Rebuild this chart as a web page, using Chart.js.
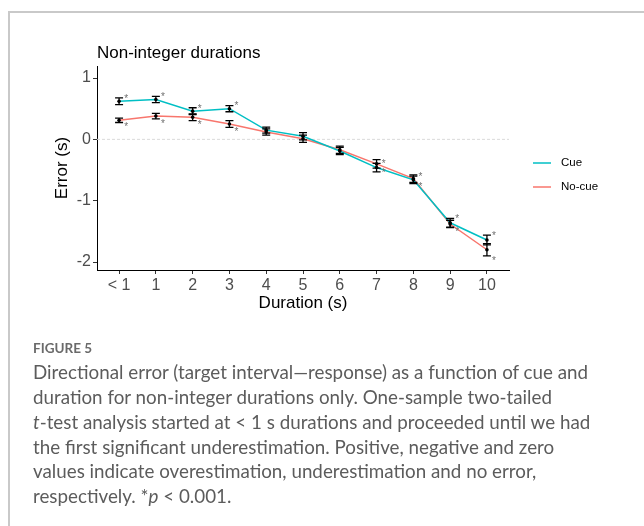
<!DOCTYPE html>
<html>
<head>
<meta charset="utf-8">
<script src="https://cdn.jsdelivr.net/npm/chart.js@4.4.1/dist/chart.umd.min.js"></script>
<style>
body { margin: 0; background: #fff; width: 644px; height: 526px; overflow: hidden; position: relative; }
#card { position: absolute; left: 8px; top: 11px; width: 700px; height: 600px; border: 2px solid #c9c9c9; box-sizing: border-box; }
#caption { position: absolute; left: 33px; top: 340px; color: #5c5c5c; font-family: Lato, "Open Sans", sans-serif; }
#caption .fig { font-size: 13.5px; line-height: 16px; font-weight: bold; color: #6a6a6a; margin-bottom: 4.2px; }
#caption .txt { font-size: 18.8px; line-height: 24.8px; white-space: nowrap; }
</style>
</head>
<body>
<div id="card"></div>
<canvas id="chart" width="644" height="330"></canvas>
<div id="caption">
  <div class="fig">FIGURE 5</div>
  <div class="txt">Directional error (target interval—response) as a function of cue and<br>duration for non-integer durations only. One-sample two-tailed<br><i>t</i>-test analysis started at &lt; 1 s durations and proceeded until we had<br>the first significant underestimation. Positive, negative and zero<br>values indicate overestimation, underestimation and no error,<br>respectively. *<i>p</i> &lt; 0.001.</div>
</div>
<script>
const durationLabels = ['< 1', '1', '2', '3', '4', '5', '6', '7', '8', '9', '10'];
const yTicks = [-2, -1, 0, 1];

const cueMean = [0.62, 0.65, 0.46, 0.50, 0.15, 0.05, -0.19, -0.46, -0.66, -1.36, -1.64];
const cueErr = [0.055, 0.05, 0.055, 0.05, 0.05, 0.06, 0.06, 0.07, 0.06, 0.07, 0.08];
const cueSig = [true, true, true, true, false, false, false, true, true, true, true];

const noCueMean = [0.31, 0.38, 0.36, 0.25, 0.12, 0.01, -0.17, -0.40, -0.64, -1.38, -1.80];
const noCueErr = [0.035, 0.045, 0.055, 0.055, 0.05, 0.06, 0.06, 0.07, 0.06, 0.06, 0.10];
const noCueSig = [true, true, true, true, false, false, false, true, true, true, true];

const FONT = "'Liberation Sans', Arial, sans-serif";

// extra bits ggplot draws: zero line, error bars, stars, title, legend
const extras = {
    id: 'extras',
    beforeDatasetsDraw(chart) {
        const { ctx, chartArea, scales: { y } } = chart;
        const y0 = y.getPixelForValue(0);
        ctx.save();
        ctx.strokeStyle = '#dadada';
        ctx.lineWidth = 1;
        ctx.setLineDash([3, 2]);
        ctx.beginPath();
        ctx.moveTo(chartArea.left, y0);
        ctx.lineTo(chartArea.right, y0);
        ctx.stroke();
        ctx.restore();
    },
    afterDatasetsDraw(chart) {
        const { ctx, scales: { x, y } } = chart;
        ctx.save();
        chart.data.datasets.forEach((ds) => {
            ds.data.forEach((p, i) => {
                const px = x.getPixelForValue(p.x);
                const py = y.getPixelForValue(p.y);
                const top = y.getPixelForValue(p.y + ds.err[i]);
                const bot = y.getPixelForValue(p.y - ds.err[i]);
                ctx.strokeStyle = '#000';
                ctx.lineWidth = 1.3;
                ctx.beginPath();
                ctx.moveTo(px, top); ctx.lineTo(px, bot);
                ctx.moveTo(px - 4, top); ctx.lineTo(px + 4, top);
                ctx.moveTo(px - 4, bot); ctx.lineTo(px + 4, bot);
                ctx.stroke();
                ctx.fillStyle = '#000';
                ctx.beginPath();
                ctx.arc(px, py, 1.8, 0, Math.PI * 2);
                ctx.fill();
                if (ds.sig[i]) {
                    ctx.fillStyle = '#707070';
                    ctx.font = '10px ' + FONT;
                    ctx.textAlign = 'center';
                    ctx.textBaseline = 'middle';
                    if (ds.above) ctx.fillText('*', px + 7, top + 1);
                    else ctx.fillText('*', px + 7, bot + 5);
                }
            });
        });
        ctx.restore();
    },
    afterDraw(chart) {
        const { ctx, chartArea } = chart;
        ctx.save();
        ctx.fillStyle = '#000';
        ctx.font = '17px ' + FONT;
        ctx.textAlign = 'left';
        ctx.textBaseline = 'middle';
        ctx.fillText('Non-integer durations', chartArea.left, 53);

        ctx.font = '11.5px ' + FONT;
        chart.data.datasets.forEach((ds, k) => {
            const ly = 163 + k * 24;
            ctx.strokeStyle = ds.borderColor;
            ctx.lineWidth = 1.5;
            ctx.beginPath();
            ctx.moveTo(533, ly); ctx.lineTo(551, ly);
            ctx.stroke();
            ctx.fillStyle = '#000';
            ctx.fillText(ds.label, 561, ly);
        });
        ctx.restore();
    }
};

const ctx = document.getElementById('chart').getContext('2d');
const chart = new Chart(ctx, {
    type: 'line',
    data: {
        datasets: [
            {
                label: 'Cue',
                data: cueMean.map((v, i) => ({ x: i, y: v })),
                err: cueErr, sig: cueSig, above: true,
                borderColor: '#00BFC4', borderWidth: 1.5,
                pointRadius: 0, tension: 0
            },
            {
                label: 'No-cue',
                data: noCueMean.map((v, i) => ({ x: i, y: v })),
                err: noCueErr, sig: noCueSig, above: false,
                borderColor: '#F8766D', borderWidth: 1.5,
                pointRadius: 0, tension: 0
            }
        ]
    },
    options: {
        responsive: false,
        animation: false,
        layout: { padding: { left: 48, top: 66, right: 135, bottom: 12 } },
        plugins: { legend: { display: false }, tooltip: { enabled: false } },
        scales: {
            x: {
                type: 'linear',
                min: -0.6,
                max: 10.6,
                afterBuildTicks: (s) => { s.ticks = durationLabels.map((_, i) => ({ value: i })); },
                afterFit: (s) => { s.height = 48; },
                ticks: {
                    autoSkip: false, maxRotation: 0, padding: 2,
                    color: '#4d4d4d', font: { size: 16, family: FONT },
                    callback: (v) => durationLabels[v]
                },
                grid: { drawOnChartArea: false, tickLength: 4, color: '#333', lineWidth: 1 },
                border: { display: true, color: '#000', width: 1 },
                title: {
                    display: true, text: 'Duration (s)', color: '#000',
                    font: { size: 17, family: FONT }, padding: { top: 0, bottom: 4 }
                }
            },
            y: {
                min: -2.13,
                max: 1.196,
                afterBuildTicks: (s) => { s.ticks = yTicks.map((v) => ({ value: v })); },
                afterFit: (s) => { s.width = 49; },
                ticks: { padding: 2, color: '#4d4d4d', font: { size: 16, family: FONT } },
                grid: { drawOnChartArea: false, tickLength: 4, color: '#333', lineWidth: 1 },
                border: { display: true, color: '#000', width: 1 },
                title: {
                    display: true, text: 'Error (s)', color: '#000',
                    font: { size: 17, family: FONT }, padding: { top: 4, bottom: 0 }
                }
            }
        }
    },
    plugins: [extras]
});
</script>
</body>
</html>
